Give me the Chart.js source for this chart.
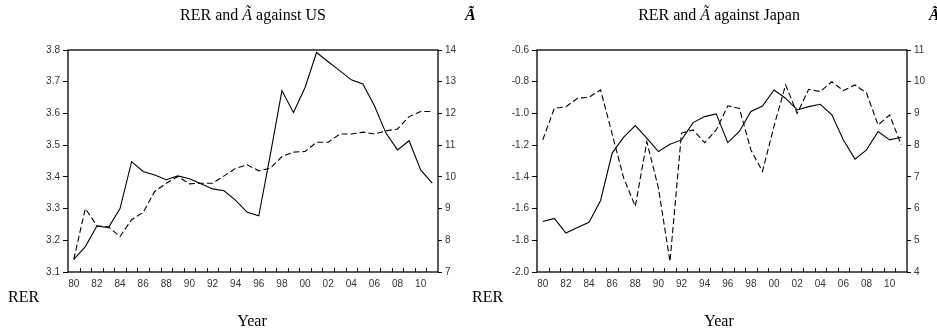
<!DOCTYPE html>
<html>
<head>
<meta charset="utf-8">
<script src="https://cdn.jsdelivr.net/npm/chart.js@4/dist/chart.umd.min.js"></script>
<style>
  html, body { margin: 0; padding: 0; background: #fff; }
  #wrap { position: relative; width: 937px; height: 331px; overflow: hidden; background: #fff; }
  canvas { position: absolute; top: 0; }
  .t { position: absolute; font-family: "Liberation Serif", "Times New Roman", serif; font-size: 16px; line-height: 16px; color: #000; white-space: nowrap; }
  .c { text-align: center; }
  .ai { font-style: italic; }
  .ab { font-style: italic; font-weight: bold; }
</style>
</head>
<body>
<div id="wrap">
  <canvas id="cUS" width="468" height="331" style="left:0;width:468px;height:331px"></canvas>
  <canvas id="cJP" width="469" height="331" style="left:468px;width:469px;height:331px"></canvas>

  <div class="t c" style="left:0;width:506px;top:7px">RER and <span class="ai">Ã</span> against US</div>
  <div class="t ab" style="left:465px;top:7px">Ã</div>
  <div class="t c" style="left:468px;width:502px;top:7px">RER and <span class="ai">Ã</span> against Japan</div>
  <div class="t ab" style="left:929px;top:7px">Ã</div>

  <div class="t" style="left:8px;top:289px">RER</div>
  <div class="t c" style="left:0;width:504px;top:313px">Year</div>
  <div class="t" style="left:472px;top:289px">RER</div>
  <div class="t c" style="left:468px;width:502px;top:313px">Year</div>
</div>

<script>
// Years 1980-2011, labelled with two digits
const years = ['80','81','82','83','84','85','86','87','88','89',
               '90','91','92','93','94','95','96','97','98','99',
               '00','01','02','03','04','05','06','07','08','09',
               '10','11'];

// Real exchange rate against the US (left axis)
const rerUS = [3.14, 3.18, 3.245, 3.24, 3.30, 3.448, 3.417, 3.406, 3.391, 3.403,
               3.394, 3.378, 3.362, 3.356, 3.326, 3.288, 3.277, 3.47, 3.672, 3.603,
               3.682, 3.792, 3.763, 3.735, 3.706, 3.693, 3.624, 3.538, 3.485, 3.514,
               3.422, 3.38];
// A-tilde against the US (right axis)
const aUS = [7.4, 9.0, 8.46, 8.42, 8.12, 8.65, 8.88, 9.54, 9.80, 10.01,
             9.78, 9.80, 9.80, 10.03, 10.27, 10.38, 10.19, 10.27, 10.64, 10.78,
             10.80, 11.09, 11.09, 11.35, 11.35, 11.41, 11.35, 11.45, 11.51, 11.90,
             12.06, 12.06];

// Real exchange rate against Japan (left axis)
const rerJP = [-1.681, -1.662, -1.754, -1.72, -1.687, -1.549, -1.25, -1.15, -1.077, -1.156,
               -1.24, -1.194, -1.167, -1.058, -1.02, -1.003, -1.184, -1.114, -0.988, -0.953,
               -0.852, -0.904, -0.978, -0.957, -0.942, -1.009, -1.167, -1.288, -1.23, -1.114,
               -1.167, -1.15];
// A-tilde against Japan (right axis)
const aJP = [8.17, 9.16, 9.21, 9.48, 9.51, 9.74, 8.35, 6.96, 6.07, 8.11,
             6.65, 4.33, 8.38, 8.48, 8.08, 8.48, 9.24, 9.16, 7.85, 7.17,
             8.6, 9.9, 9.0, 9.76, 9.69, 10.0, 9.72, 9.9, 9.64, 8.64,
             8.95, 8.01];

// Axis ranges
const usLeft = { min: 3.1, max: 3.8, step: 0.1 };
const usRight = { min: 7, max: 14, step: 1 };
const jpLeft = { min: -2.0, max: -0.6, step: 0.2 };
const jpRight = { min: 4, max: 11, step: 1 };

const tickFont = { family: '"Liberation Sans", Arial, sans-serif', size: 10 };
const tickColor = '#333';

// Box round the plot area plus short inward year ticks on the bottom edge
const framePlugin = {
  id: 'frameAndYearTicks',
  afterDraw(chart) {
    const { ctx, chartArea: a } = chart;
    const x = chart.scales.x;
    ctx.save();
    ctx.strokeStyle = '#000';
    ctx.lineWidth = 1.3;
    ctx.strokeRect(a.left, a.top, a.right - a.left, a.bottom - a.top);
    ctx.lineWidth = 1;
    ctx.beginPath();
    for (let k = 1; k < years.length; k++) {
      const px = Math.round((x.getPixelForValue(k - 1) + x.getPixelForValue(k)) / 2) + 0.5;
      ctx.moveTo(px, a.bottom);
      ctx.lineTo(px, a.bottom - 4);
    }
    ctx.stroke();
    ctx.restore();
  }
};

function makeChart(id, rer, atil, left, right, leftWidth, rightWidth) {
  return new Chart(document.getElementById(id), {
    type: 'line',
    data: {
      labels: years,
      datasets: [
        { data: rer, yAxisID: 'y', borderColor: '#000', borderWidth: 1.1,
          pointRadius: 0, tension: 0, fill: false },
        { data: atil, yAxisID: 'y1', borderColor: '#000', borderWidth: 1.1,
          borderDash: [6, 3], pointRadius: 0, tension: 0, fill: false }
      ]
    },
    options: {
      responsive: false,
      animation: false,
      devicePixelRatio: 1,
      layout: { padding: { top: 50, left: 0, right: 0, bottom: 0 } },
      plugins: { legend: { display: false }, tooltip: { enabled: false }, title: { display: false } },
      scales: {
        x: {
          type: 'category',
          offset: true,
          grid: { display: false, offset: true, drawTicks: false, tickLength: 0 },
          border: { display: false },
          ticks: {
            autoSkip: false, maxRotation: 0, minRotation: 0, padding: 6,
            color: tickColor, font: tickFont,
            callback: (v, i) => (i % 2 === 0 ? years[i] : '')
          },
          afterFit: s => { s.height = 59; }
        },
        y: {
          position: 'left',
          min: left.min, max: left.max,
          grid: { drawOnChartArea: false, drawTicks: true, tickLength: 5, color: '#000', tickColor: '#000' },
          border: { display: false },
          ticks: { stepSize: left.step, padding: 3, color: tickColor, font: tickFont,
                   callback: v => Number(v).toFixed(1) },
          afterFit: s => { s.width = leftWidth; }
        },
        y1: {
          position: 'right',
          min: right.min, max: right.max,
          grid: { drawOnChartArea: false, drawTicks: true, tickLength: 4, color: '#000', tickColor: '#000' },
          border: { display: false },
          ticks: { stepSize: right.step, padding: 3, color: tickColor, font: tickFont,
                   callback: v => String(Math.round(v)) },
          afterFit: s => { s.width = rightWidth; }
        }
      }
    },
    plugins: [framePlugin]
  });
}

makeChart('cUS', rerUS, aUS, usLeft, usRight, 68, 30);
makeChart('cJP', rerJP, aJP, jpLeft, jpRight, 69, 30);
</script>
</body>
</html>
